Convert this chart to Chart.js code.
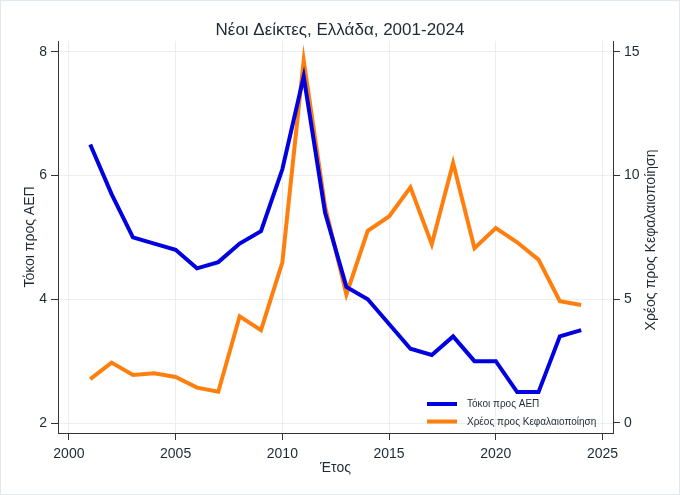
<!DOCTYPE html>
<html>
<head>
<meta charset="utf-8">
<script src="https://cdn.jsdelivr.net/npm/chart.js@4"></script>
<style>
  html, body { margin: 0; padding: 0; background: #fff; }
  #wrap { width: 680px; height: 495px; position: relative; }
</style>
</head>
<body>
<div id="wrap"><canvas id="chart"></canvas></div>
<script>
// data
const years = [2001, 2002, 2003, 2004, 2005, 2006, 2007, 2008, 2009, 2010, 2011, 2012,
               2013, 2014, 2015, 2016, 2017, 2018, 2019, 2020, 2021, 2022, 2023, 2024];
const interestToGdp = [6.5, 5.7, 5.0, 4.9, 4.8, 4.5, 4.6, 4.9, 5.1, 6.1, 7.6, 5.4,
                       4.2, 4.0, 3.6, 3.2, 3.1, 3.4, 3.0, 3.0, 2.5, 2.5, 3.4, 3.5];
const debtToCap = [1.77, 2.44, 1.94, 2.01, 1.86, 1.43, 1.26, 4.31, 3.75, 6.49, 14.65, 8.75,
                   5.19, 7.76, 8.34, 9.52, 7.22, 10.5, 7.06, 7.87, 7.3, 6.6, 4.92, 4.77];
const xTicks = [2000, 2005, 2010, 2015, 2020, 2025];
const leftTicks = [2, 4, 6, 8];
const rightTicks = [0, 5, 10, 15];

const FONT = "'Liberation Sans', Arial, sans-serif";
const TXT = '#1f2a33';
const rightTitle = 'Χρέος προς Κεφαλαιοποίηση';

const extras = {
    id: 'extras',
    beforeDraw(chart) {
        const ctx = chart.ctx;
        ctx.save();
        ctx.strokeStyle = '#e2e9ee';
        ctx.lineWidth = 1;
        ctx.strokeRect(0.5, 0.5, chart.width - 1, chart.height - 1);
        ctx.restore();
    },
    afterDraw(chart) {
        const ctx = chart.ctx;
        const area = chart.chartArea;
        ctx.save();
        // right axis title, reading bottom to top
        ctx.fillStyle = TXT;
        ctx.font = '14px ' + FONT;
        ctx.textAlign = 'center';
        ctx.textBaseline = 'middle';
        ctx.translate(651, (area.top + area.bottom) / 2 + 3);
        ctx.rotate(-Math.PI / 2);
        ctx.fillText(rightTitle, 0, 0);
        ctx.restore();

        // legend inside the plot, bottom right
        const x0 = 427, y0 = 404, gap = 17.5;
        ctx.save();
        chart.data.datasets.forEach((ds, i) => {
            const y = y0 + i * gap;
            ctx.strokeStyle = ds.borderColor;
            ctx.lineWidth = 4;
            ctx.beginPath();
            ctx.moveTo(x0, y);
            ctx.lineTo(x0 + 30, y);
            ctx.stroke();
            ctx.fillStyle = TXT;
            ctx.font = '10px ' + FONT;
            ctx.textBaseline = 'middle';
            ctx.fillText(ds.label, x0 + 40, y + 0.5);
        });
        ctx.restore();
    }
};

new Chart(document.getElementById('chart'), {
    type: 'line',
    data: {
        datasets: [{
            label: 'Τόκοι προς ΑΕΠ',
            data: years.map((y, i) => ({ x: y, y: interestToGdp[i] })),
            borderColor: '#0000e0',
            borderWidth: 4,
            pointRadius: 0,
            yAxisID: 'y',
            fill: false
        }, {
            label: rightTitle,
            data: years.map((y, i) => ({ x: y, y: debtToCap[i] })),
            borderColor: '#ff7f0e',
            borderWidth: 4,
            pointRadius: 0,
            yAxisID: 'y1',
            fill: false
        }]
    },
    options: {
        responsive: true,
        maintainAspectRatio: false,
        animation: false,
        layout: { padding: 0 },
        plugins: {
            legend: { display: false },
            tooltip: { enabled: false },
            title: {
                display: true,
                text: 'Νέοι Δείκτες, Ελλάδα, 2001-2024',
                color: TXT,
                font: { family: FONT, size: 17, weight: 'normal' },
                padding: { top: 20.5, bottom: 0.1 }
            }
        },
        scales: {
            x: {
                type: 'linear',
                min: 1999.49,
                max: 2025.49,
                afterBuildTicks: s => { s.ticks = xTicks.map(v => ({ value: v })); },
                afterFit: s => { s.height = 62; },
                ticks: { color: TXT, font: { family: FONT, size: 14 }, padding: 5.5, maxRotation: 0, callback: v => String(v) },
                grid: { color: '#eaeef1', tickColor: '#333', tickLength: 7 },
                border: { color: '#333', width: 1 },
                title: { display: true, text: 'Έτος', color: TXT, font: { family: FONT, size: 14 }, padding: { top: 0, bottom: 18.5 } }
            },
            y: {
                position: 'left',
                min: 1.839,
                max: 8.173,
                afterBuildTicks: s => { s.ticks = leftTicks.map(v => ({ value: v })); },
                afterFit: s => { s.width = 58; },
                ticks: { color: TXT, font: { family: FONT, size: 14 }, padding: 4, callback: v => String(v) },
                grid: { color: '#eaeef1', tickColor: '#333', tickLength: 7 },
                border: { color: '#333', width: 1 },
                title: { display: true, text: 'Τόκοι προς ΑΕΠ', color: TXT, font: { family: FONT, size: 14 }, padding: { top: 22, bottom: 0 } }
            },
            y1: {
                position: 'right',
                min: -0.404,
                max: 15.43,
                afterBuildTicks: s => { s.ticks = rightTicks.map(v => ({ value: v })); },
                afterFit: s => { s.width = 67; },
                ticks: { color: TXT, font: { family: FONT, size: 14 }, padding: 4, callback: v => String(v) },
                grid: { drawOnChartArea: false, tickColor: '#333', tickLength: 7 },
                border: { color: '#333', width: 1 }
            }
        }
    },
    plugins: [extras]
});
</script>
</body>
</html>
